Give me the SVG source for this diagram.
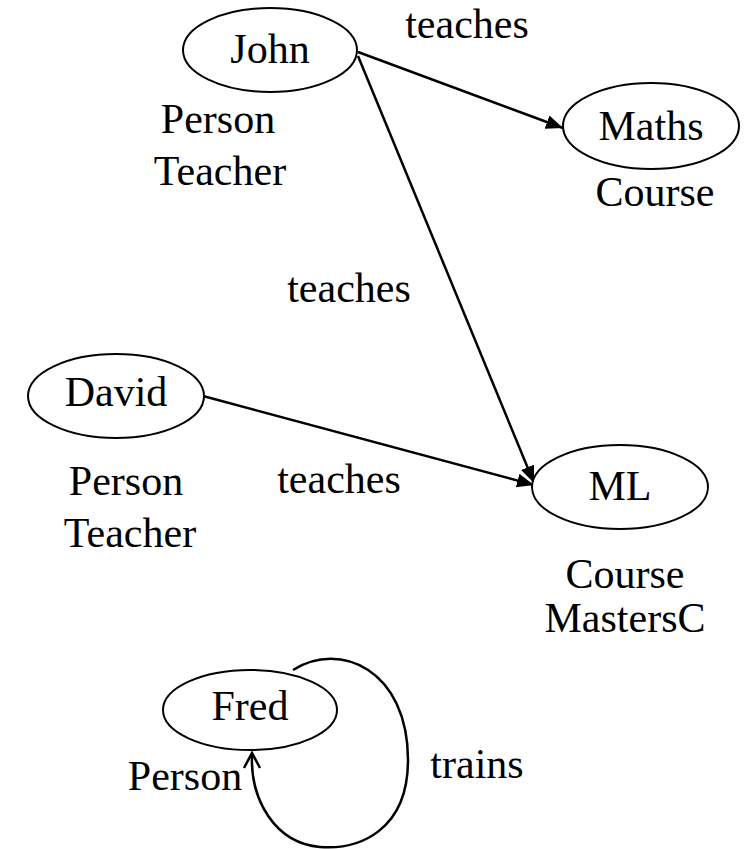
<svg xmlns="http://www.w3.org/2000/svg" width="749" height="849" viewBox="0 0 749 849">
<defs>
<style>
.n ellipse{fill:#fff;stroke:#000;stroke-width:2}
text{font-family:"Liberation Serif","DejaVu Serif",serif;font-size:42px;fill:#000;text-anchor:middle}
.e{fill:none;stroke:#000;stroke-width:2.5}
</style>
<marker id="ah" markerWidth="18" markerHeight="14" refX="17" refY="7" orient="auto" markerUnits="userSpaceOnUse">
<path d="M0,0 L17,7 L0,14 Z" fill="#000"/>
</marker>
</defs>
<rect width="749" height="849" fill="#fff"/>
<g id="edges">
<path class="e" d="M358,52 L563,128" marker-end="url(#ah)"/>
<path class="e" d="M358,56 L534,483" marker-end="url(#ah)"/>
<path class="e" d="M203,396 L534,485" marker-end="url(#ah)"/>
<path class="e" d="M293,670 C340,640 408,670 408,760 C408,830 360,850 320,847 C275,843 250,800 252,754"/>
<path class="e" d="M244,768 L252,753 L260,768"/>
<text x="467" y="38">teaches</text>
<text x="349" y="302">teaches</text>
<text x="339" y="493">teaches</text>
<text x="477" y="778">trains</text>
</g>
<g id="John" class="n">
<ellipse cx="270" cy="50" rx="87" ry="42"/>
<text x="270" y="63">John</text>
<text x="218" y="133">Person</text>
<text x="220" y="185">Teacher</text>
</g>
<g id="Maths" class="n">
<ellipse cx="651" cy="126" rx="88" ry="43"/>
<text x="651" y="140">Maths</text>
<text x="655" y="206">Course</text>
</g>
<g id="David" class="n">
<ellipse cx="116" cy="396" rx="88" ry="42"/>
<text x="116" y="406">David</text>
<text x="126" y="495">Person</text>
<text x="130" y="547">Teacher</text>
</g>
<g id="ML" class="n">
<ellipse cx="620" cy="487" rx="88" ry="42"/>
<text x="620" y="500">ML</text>
<text x="625" y="588">Course</text>
<text x="625" y="632">MastersC</text>
</g>
<g id="Fred" class="n">
<ellipse cx="250" cy="710" rx="87" ry="40"/>
<text x="250" y="720">Fred</text>
<text x="185" y="790">Person</text>
</g>
</svg>
